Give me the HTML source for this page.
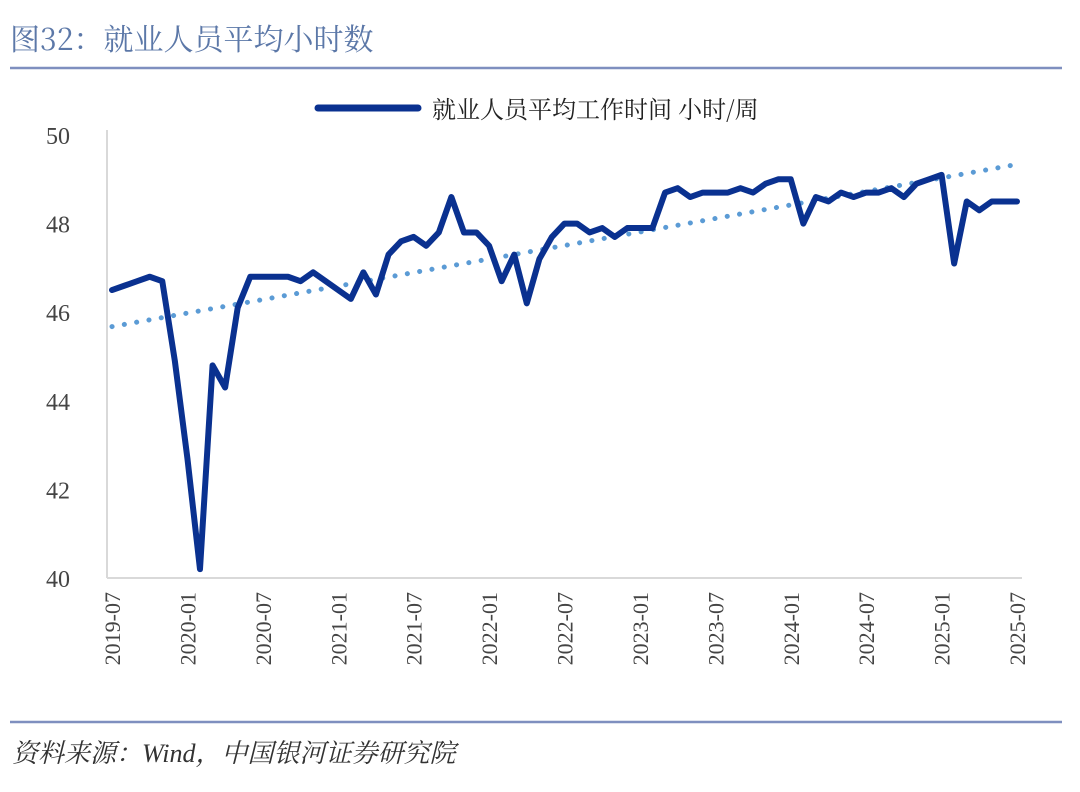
<!DOCTYPE html>
<html><head><meta charset="utf-8"><style>
body{margin:0;background:#fff;width:1080px;height:787px;overflow:hidden;font-family:"Liberation Sans","Noto Serif CJK SC","Noto Sans CJK SC",serif;}
</style></head><body>
<svg id="c" width="1080" height="787" xmlns="http://www.w3.org/2000/svg">
<text x="10" y="50" font-size="30" fill="#5c78a8" font-family="'Noto Serif CJK SC','Noto Sans CJK SC',serif">图32：就业人员平均小时数</text>
<line x1="10" y1="68" x2="1062" y2="68" stroke="#7f8fbf" stroke-width="2.5"/>
<line x1="318" y1="108" x2="418" y2="108" stroke="#0a3190" stroke-width="7" stroke-linecap="round"/>
<text x="432" y="118" font-size="24" fill="#222" font-family="'Noto Serif CJK SC','Noto Sans CJK SC',serif">就业人员平均工作时间 小时/周</text>
<g id="axes"></g>
<g id="marks"></g>
<line x1="10" y1="722" x2="1062" y2="722" stroke="#7f8fbf" stroke-width="2.5"/>
<text x="12" y="762" font-size="26" fill="#333" font-style="italic" font-family="'Liberation Serif','Noto Serif CJK SC',serif">资料来源：Wind，中国银河证券研究院</text>
</svg>
<script>
const values=[46.5,46.6,46.7,46.8,46.7,44.9,42.7,40.2,44.8,44.3,46.1,46.8,46.8,46.8,46.8,46.7,46.9,46.7,46.5,46.3,46.9,46.4,47.3,47.6,47.7,47.5,47.8,48.6,47.8,47.8,47.5,46.7,47.3,46.2,47.2,47.7,48.0,48.0,47.8,47.9,47.7,47.9,47.9,47.9,48.7,48.8,48.6,48.7,48.7,48.7,48.8,48.7,48.9,49.0,49.0,48.0,48.6,48.5,48.7,48.6,48.7,48.7,48.8,48.6,48.9,49.0,49.1,47.1,48.5,48.3,48.5,48.5,48.5];
const yTicks=[40,42,44,46,48,50];
const xTickLabels=["2019-07","2020-01","2020-07","2021-01","2021-07","2022-01","2022-07","2023-01","2023-07","2024-01","2024-07","2025-01","2025-07"];
const NS="http://www.w3.org/2000/svg";
const X0=112,X1=1017,Y0=578,Y1=135,VMIN=40,VMAX=50;
const xs=i=>X0+(X1-X0)*i/(values.length-1);
const ys=v=>Y0-(v-VMIN)/(VMAX-VMIN)*(Y0-Y1);
function mk(tag,attrs,parent){const e=document.createElementNS(NS,tag);for(const k in attrs)e.setAttribute(k,attrs[k]);parent.appendChild(e);return e;}
const ax=document.getElementById('axes'),mg=document.getElementById('marks');
let e=mk('line',{x1:107,y1:130,x2:107,y2:Y0,stroke:'#d9d9d9','stroke-width':2},ax);


e=mk('line',{x1:107,y1:Y0,x2:1022,y2:Y0,stroke:'#d9d9d9','stroke-width':2},ax);


yTicks.forEach(t=>{const tx=mk('text',{x:70,y:ys(t)+9,'text-anchor':'end','font-size':24,fill:'#444','font-family':"'Liberation Serif',serif"},ax);tx.textContent=t;

});
xTickLabels.forEach((l,k)=>{const x=xs(k*6);const tx=mk('text',{transform:`translate(${x+8},592) rotate(-90)`,'text-anchor':'end','font-size':22,fill:'#444','font-family':"'Liberation Serif',serif"},ax);tx.textContent=l;

});
// trend (least squares)
const n=values.length;let sx=0,sy=0,sxy=0,sxx=0;values.forEach((v,i)=>{sx+=i;sy+=v;sxy+=i*v;sxx+=i*i;});
const b=(n*sxy-sx*sy)/(n*sxx-sx*sx),a=(sy-b*sx)/n;
e=mk('line',{x1:xs(0),y1:ys(a),x2:xs(n-1),y2:ys(a+b*(n-1)),stroke:'#5b9bd5','stroke-width':5,'stroke-dasharray':'0.1 12.4','stroke-linecap':'round'},mg);


e=mk('polyline',{points:values.map((v,i)=>xs(i)+','+ys(v)).join(' '),fill:'none',stroke:'#0a3190','stroke-width':6,'stroke-linejoin':'round','stroke-linecap':'round'},mg);


</script>
</body></html>
